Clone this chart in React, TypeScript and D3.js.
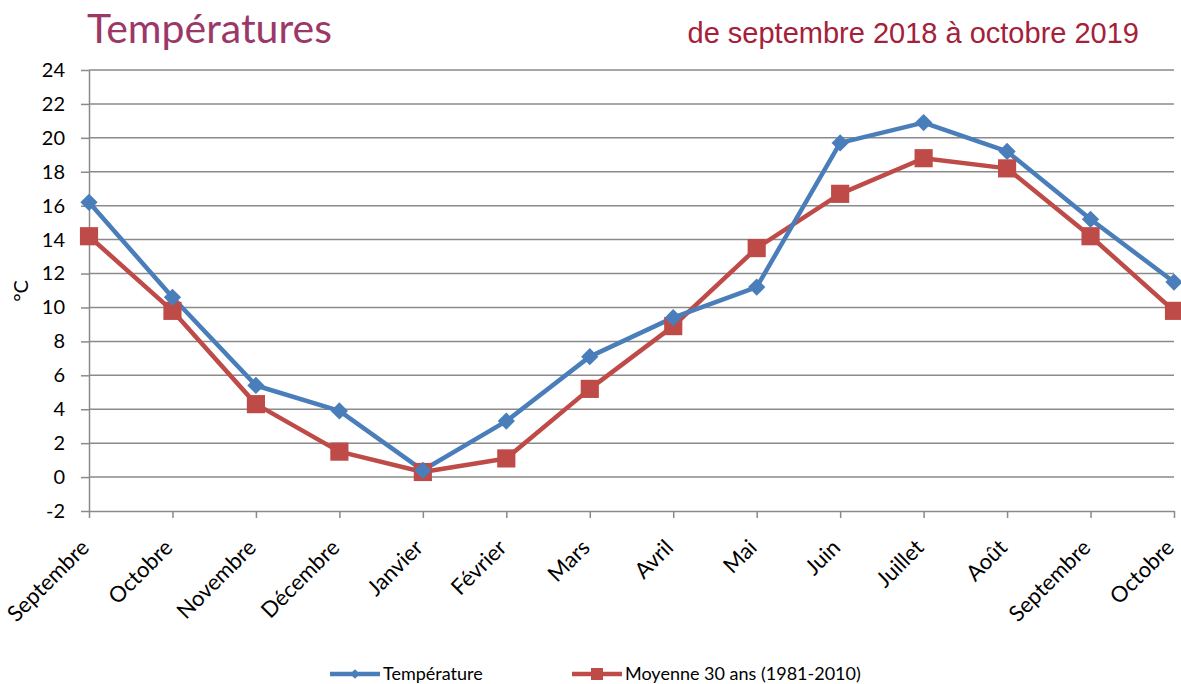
import React, { useEffect, useRef } from 'react';
import * as d3 from 'd3';

const months = ['Septembre', 'Octobre', 'Novembre', 'Décembre', 'Janvier', 'Février', 'Mars', 'Avril', 'Mai', 'Juin', 'Juillet', 'Août', 'Septembre', 'Octobre'];
const temperature = [16.2, 10.6, 5.4, 3.9, 0.4, 3.3, 7.1, 9.4, 11.2, 19.7, 20.9, 19.2, 15.2, 11.5];
const moyenne = [14.2, 9.8, 4.3, 1.5, 0.3, 1.1, 5.2, 8.9, 13.5, 16.7, 18.8, 18.2, 14.2, 9.8];
const yTicks = [-2, 0, 2, 4, 6, 8, 10, 12, 14, 16, 18, 20, 22, 24];

const BLUE = '#4a7ebb';
const RED = '#be4b48';
const GRID = '#8a8a8a';
const FONT = 'Lato, "Open Sans", sans-serif';

const App = () => {
	const ref = useRef<SVGSVGElement>(null);

	useEffect(() => {
		const svg = d3.select(ref.current);
		svg.selectAll('*').remove();

		const left = 89, right = 1174, top = 70, bottom = 511;

		const x = d3.scalePoint<number>().domain(d3.range(months.length)).range([left, right]);
		const y = d3.scaleLinear().domain([-2, 24]).range([bottom, top]);

		// titles
		svg.append('text').attr('x', 87).attr('y', 43).text('Températures')
			.style('font-family', FONT).style('font-size', '41px').attr('fill', '#9b3868');
		svg.append('text').attr('x', 1139).attr('y', 43).attr('text-anchor', 'end')
			.text('de septembre 2018 à octobre 2019')
			.style('font-family', '"Liberation Sans", Arial, sans-serif').style('font-size', '29px').attr('fill', '#a52039');

		// grid
		svg.append('g').selectAll('line').data(yTicks.filter((t) => t > -2)).join('line')
			.attr('x1', left).attr('x2', right).attr('y1', (d) => y(d)).attr('y2', (d) => y(d))
			.attr('stroke', GRID).attr('stroke-width', 1.5);

		// y axis
		const yAxis = svg.append('g').attr('transform', `translate(${left},0)`)
			.call(d3.axisLeft(y).tickValues(yTicks).tickSize(8).tickPadding(16).tickSizeOuter(0).tickFormat((d) => String(d)));
		yAxis.select('.domain').attr('stroke', GRID).attr('stroke-width', 1.5);
		yAxis.selectAll('.tick line').attr('stroke', GRID).attr('stroke-width', 1.5);
		yAxis.selectAll('text').style('font-family', FONT).style('font-size', '20px').attr('fill', '#000');

		// x axis
		const xAxis = svg.append('g').attr('transform', `translate(0,${bottom})`)
			.call(d3.axisBottom(x).tickSize(7).tickSizeOuter(0).tickFormat((i) => months[i as number]));
		xAxis.select('.domain').attr('stroke', GRID).attr('stroke-width', 1.5);
		xAxis.selectAll('.tick line').attr('stroke', GRID).attr('stroke-width', 1.5);
		xAxis.selectAll('text').style('font-family', FONT).style('font-size', '22px').attr('fill', '#000')
			.style('text-anchor', 'end').attr('dy', '0').attr('y', 0)
			.attr('transform', 'translate(1,38) rotate(-45)');

		// y label
		svg.append('text').attr('transform', 'translate(28,291) rotate(-90)').attr('text-anchor', 'middle')
			.text('°C').style('font-family', FONT).style('font-size', '20px');

		const line = d3.line<number>().x((_, i) => x(i)!).y((d) => y(d));

		svg.append('path').datum(moyenne).attr('d', line).attr('fill', 'none')
			.attr('stroke', RED).attr('stroke-width', 4.5).attr('stroke-linejoin', 'round');
		svg.append('path').datum(temperature).attr('d', line).attr('fill', 'none')
			.attr('stroke', BLUE).attr('stroke-width', 4.5).attr('stroke-linejoin', 'round');

		const diamond = d3.symbol().type(d3.symbolDiamond2).size(190);
		const square = d3.symbol().type(d3.symbolSquare).size(330);

		svg.append('g').selectAll('path').data(moyenne).join('path')
			.attr('d', square).attr('fill', RED)
			.attr('transform', (d, i) => `translate(${x(i)},${y(d)})`);
		svg.append('g').selectAll('path').data(temperature).join('path')
			.attr('d', diamond).attr('fill', BLUE)
			.attr('transform', (d, i) => `translate(${x(i)},${y(d)})`);

		// legend
		const legend = [
			{ label: 'Température', color: BLUE, sym: d3.symbol().type(d3.symbolDiamond2).size(60)(), x0: 330 },
			{ label: 'Moyenne 30 ans (1981-2010)', color: RED, sym: d3.symbol().type(d3.symbolSquare).size(144)(), x0: 572 },
		];
		const lg = svg.append('g').selectAll('g').data(legend).join('g')
			.attr('transform', (d) => `translate(${d.x0},674)`);
		lg.append('line').attr('x1', 0).attr('x2', 50).attr('stroke', (d) => d.color).attr('stroke-width', 4.5);
		lg.append('path').attr('d', (d) => d.sym!).attr('fill', (d) => d.color).attr('transform', 'translate(25,0)');
		lg.append('text').attr('x', 53).attr('y', 6).text((d) => d.label)
			.style('font-family', FONT).style('font-size', '18px');
	}, []);

	return <svg ref={ref} width={1181} height={684} style={{ position: 'absolute', left: 0, top: 0 }}></svg>;
};

export default App;
